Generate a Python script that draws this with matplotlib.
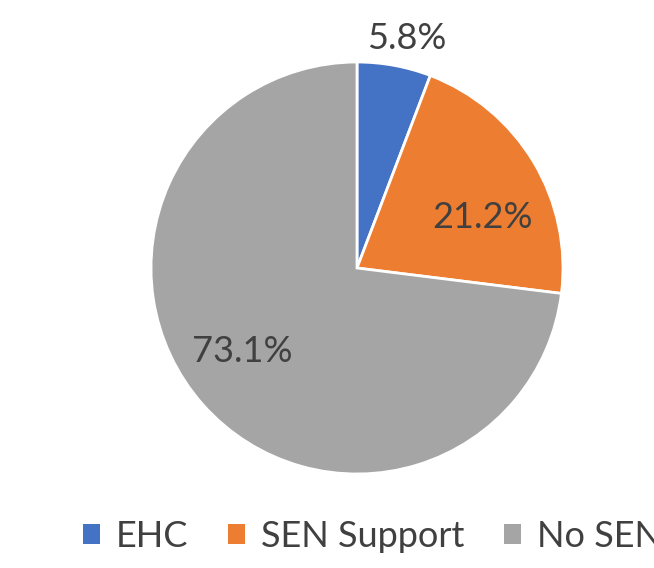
import matplotlib.pyplot as plt
from matplotlib.patches import Patch

categories = ['EHC', 'SEN Support', 'No SEN']
shares = [5.8, 21.2, 73.1]
colors = ['#4472C4', '#ED7D31', '#A5A5A5']
# label spots (x, y) in pie units
label_pos = [(0.243, 1.115), (0.607, 0.243), (-0.558, -0.403)]

plt.rcParams['font.family'] = ['Lato', 'DejaVu Sans']

fig = plt.figure(figsize=(6.54, 5.68), dpi=100)
cx, cy, r = 357, 268, 206
ax = fig.add_axes([(cx - r) / 654, (568 - cy - r) / 568, 2 * r / 654, 2 * r / 568])

wedges, _ = ax.pie(shares, colors=colors, startangle=90, counterclock=False,
                   wedgeprops=dict(edgecolor='white', linewidth=2))
ax.set_xlim(-1, 1)
ax.set_ylim(-1, 1)
ax.set_aspect('equal')
ax.axis('off')

for val, (x, y) in zip(shares, label_pos):
    ax.text(x, y, f'{val}%', ha='center', va='center', fontsize=26,
            color='#404040', clip_on=False)

handles = [Patch(facecolor=c) for c in colors]
fig.legend(handles, categories, loc='center left', bbox_to_anchor=(0.127, 0.056),
           ncol=3, frameon=False, fontsize=26, labelcolor='#404040',
           handlelength=0.47, handleheight=0.47, handletextpad=0.44,
           columnspacing=1.1, borderpad=0, borderaxespad=0)

fig.savefig('out.png', dpi=100)
